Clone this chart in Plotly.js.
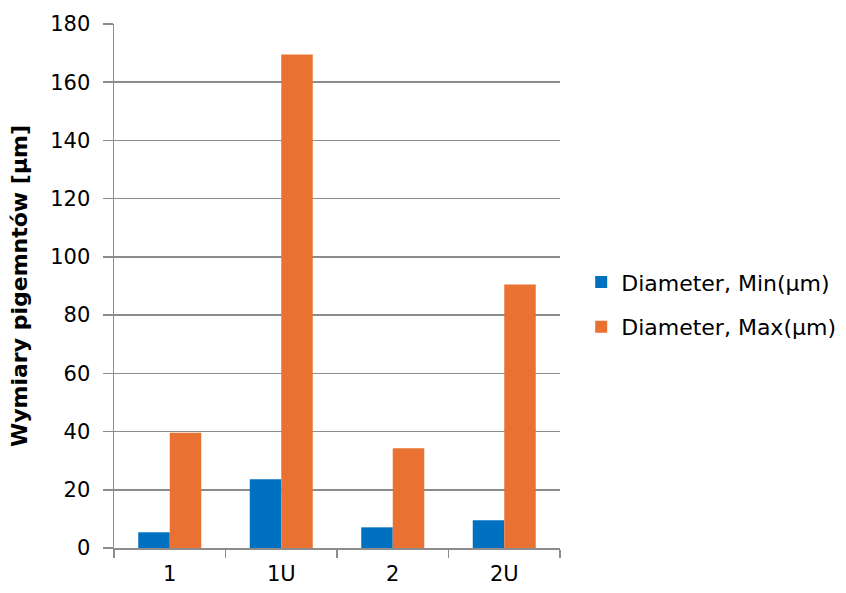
<!DOCTYPE html>
<html>
<head>
<meta charset="utf-8">
<script src="https://cdn.plot.ly/plotly-3.0.1.min.js"></script>
<style>html,body{margin:0;padding:0;background:#fff;}#chart{width:846px;height:593px;}</style>
</head>
<body>
<div id="chart"></div>
<script>
const categories = ["1", "1U", "2", "2U"];
const minValues = [5.4, 23.6, 7.1, 9.5];
const maxValues = [39.6, 169.5, 34.3, 90.5];
const seriesNames = ["Diameter, Min(μm)", "Diameter, Max(μm)"];
const yTicks = [0, 20, 40, 60, 80, 100, 120, 140, 160, 180];

const fontFam = "DejaVu Sans, sans-serif";
const data = [
  {type: "bar", x: categories, y: minValues, name: seriesNames[0], legendgroup: "min", marker: {color: "#0070C0"}},
  {type: "bar", x: categories, y: maxValues, name: seriesNames[1], legendgroup: "max", marker: {color: "#E97132"}}
];
const layout = {
  width: 846, height: 593,
  margin: {l: 114, r: 286, t: 24, b: 45},
  paper_bgcolor: "#fff", plot_bgcolor: "#fff",
  barmode: "group", bargap: 0.435, bargroupgap: 0,
  font: {family: fontFam, size: 21, color: "#000"},
  showlegend: true,
  legend: {xref: "container", yref: "container", x: 0.687, xanchor: "left", y: 0.486, yanchor: "middle",
           font: {size: 22, family: fontFam}, tracegroupgap: 13, itemwidth: 30},
  xaxis: {
    type: "category", tickson: "boundaries", ticks: "outside", ticklen: 8, tickcolor: "#8c8c8c", tickwidth: 1.5,
    showline: true, linecolor: "#8c8c8c", linewidth: 1.5, showgrid: false,
    tickfont: {size: 21}, ticklabelstandoff: 6
  },
  yaxis: {
    range: [0, 180], tickvals: yTicks, ticks: "outside", ticklen: 10, tickcolor: "#8c8c8c", tickwidth: 1.5,
    showline: true, linecolor: "#8c8c8c", linewidth: 1.5,
    showgrid: true, gridcolor: "#8c8c8c", gridwidth: 1.5, zeroline: false,
    tickfont: {size: 21}, ticklabelstandoff: 8,
    title: {text: "<b>Wymiary pigemntów [μm]</b>", font: {size: 22, family: fontFam}, standoff: 16}
  }
};
Plotly.newPlot("chart", data, layout, {displayModeBar: false, staticPlot: true});
</script>
</body>
</html>
